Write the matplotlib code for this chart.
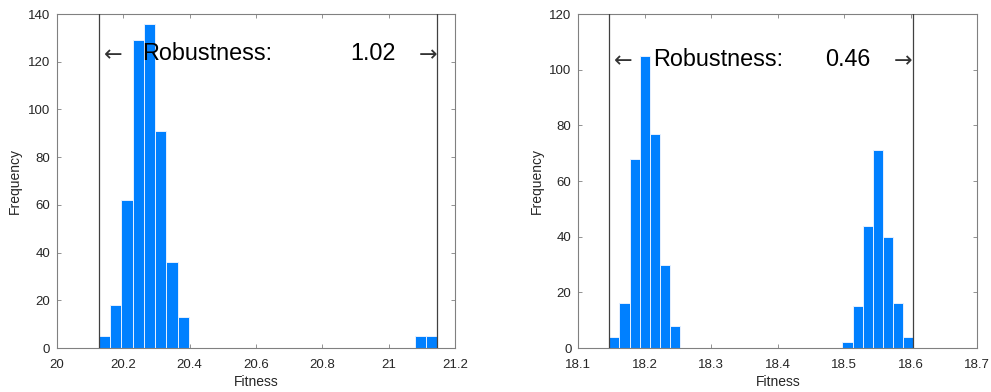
import numpy as np
import matplotlib
matplotlib.use('Agg')
import matplotlib.pyplot as plt

plt.rcParams['font.family'] = ['Liberation Sans', 'DejaVu Sans']

# Histogram data (30 equal bins between min and max fitness)
fit_min_a, fit_max_a = 20.126, 21.147
counts_a = [5, 18, 62, 129, 136, 91, 36, 13] + [0] * 20 + [5, 5]

fit_min_b, fit_max_b = 18.1466, 18.6038
counts_b = [4, 16, 68, 105, 77, 30, 8] + [0] * 16 + [2, 15, 44, 71, 40, 16, 4]

xticks_a = [20, 20.2, 20.4, 20.6, 20.8, 21, 21.2]
xtick_labels_a = ['20', '20.2', '20.4', '20.6', '20.8', '21', '21.2']
yticks_a = [0, 20, 40, 60, 80, 100, 120, 140]

xticks_b = [18.1, 18.2, 18.3, 18.4, 18.5, 18.6, 18.7]
xtick_labels_b = ['18.1', '18.2', '18.3', '18.4', '18.5', '18.6', '18.7']
yticks_b = [0, 20, 40, 60, 80, 100, 120]

bar_color = '#0080ff'
axis_color = '#262626'

fig = plt.figure(figsize=(9.91, 3.92), dpi=100)
ax1 = fig.add_axes([0.0575, 0.1122, 0.4016, 0.852])
ax2 = fig.add_axes([0.5836, 0.1122, 0.4026, 0.852])


def draw_panel(ax, lo, hi, counts, xticks, xlabels, yticks, arrow_y, txt_x, val_x):
    edges = np.linspace(lo, hi, len(counts) + 1)
    ax.hist(edges[:-1], bins=edges, weights=counts, color=bar_color,
            edgecolor='#e6f0ff', linewidth=0.7, zorder=2)
    ax.axvline(lo, color='#404040', linewidth=0.9, zorder=3)
    ax.axvline(hi, color='#404040', linewidth=0.9, zorder=3)

    ax.set_xlim(xticks[0], xticks[-1])
    ax.set_ylim(yticks[0], yticks[-1])
    ax.set_xticks(xticks)
    ax.set_xticklabels(xlabels)
    ax.set_yticks(yticks)
    ax.tick_params(direction='in', top=True, right=True, length=3,
                   width=0.6, color='#808080', labelsize=9.5,
                   labelcolor=axis_color)
    ax.tick_params(axis='x', pad=8)
    ax.tick_params(axis='y', pad=5)
    for s in ax.spines.values():
        s.set_color('#808080')
        s.set_linewidth(0.8)
    ax.set_xlabel('Fitness', fontsize=10, color=axis_color, labelpad=3)
    ax.set_ylabel('Frequency', fontsize=10, color=axis_color, labelpad=4)

    rob = hi - lo
    ax.text(lo, arrow_y, r'$\leftarrow$', fontsize=16, color='#333333',
            ha='left', va='center', zorder=4)
    ax.text(hi, arrow_y, r'$\rightarrow$', fontsize=16, color='#333333',
            ha='right', va='center', zorder=4)
    ax.text(txt_x, arrow_y, 'Robustness:', fontsize=16.8, color='black',
            ha='left', va='center', transform=ax.get_yaxis_transform(), zorder=4)
    ax.text(val_x, arrow_y, f'{rob:.2f}', fontsize=16.8, color='black',
            ha='left', va='center', transform=ax.get_yaxis_transform(), zorder=4)


draw_panel(ax1, fit_min_a, fit_max_a, counts_a, xticks_a, xtick_labels_a,
           yticks_a, 123.5, 0.2128, 0.736)
draw_panel(ax2, fit_min_b, fit_max_b, counts_b, xticks_b, xtick_labels_b,
           yticks_b, 103.7, 0.1865, 0.618)

fig.savefig('out.png', dpi=100)
